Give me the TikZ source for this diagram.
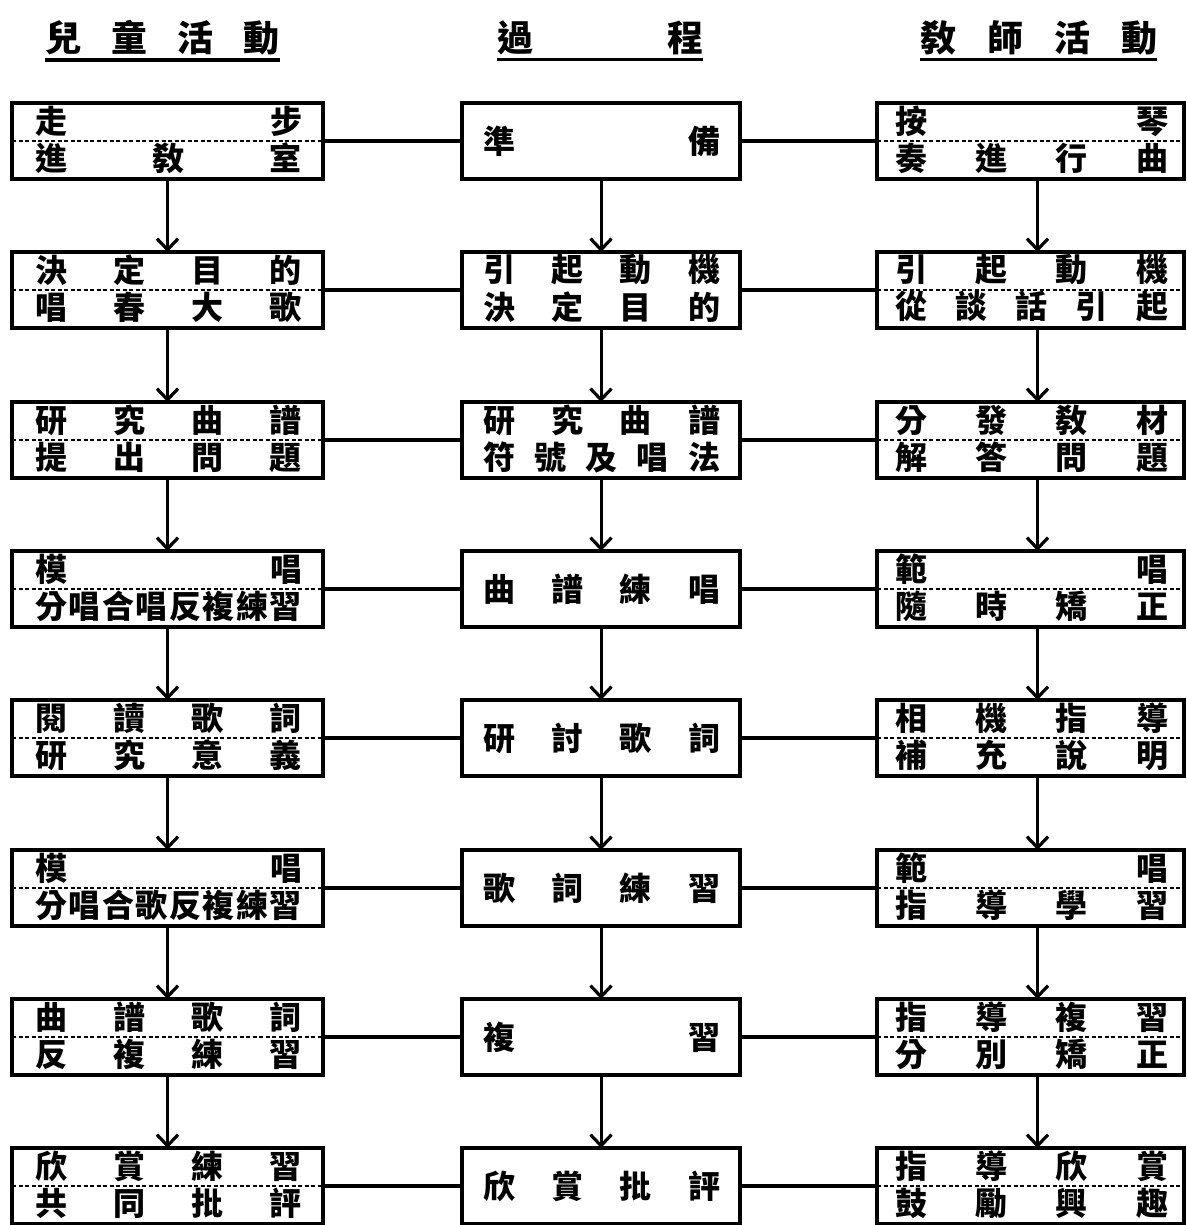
\documentclass[tikz,border=0pt]{standalone}
\usepackage{fontspec}
\newfontfamily\cjk{Noto Sans CJK TC}
\usetikzlibrary{arrows.meta}
\tikzset{
  box/.style={draw, line width=3.4pt, minimum height=76pt, inner sep=0pt, outer sep=0pt},
  lbox/.style={box, minimum width=311pt},
  mbox/.style={box, minimum width=278pt},
  rbox/.style={box, minimum width=307pt},
  sepline/.style={line width=1.6pt, dash pattern=on 4pt off 2.5pt},
  txt/.style={inner sep=0pt, font=\cjk\bfseries\fontsize{32}{32}\selectfont},
  head/.style={inner sep=0pt, font=\cjk\bfseries\fontsize{36}{36}\selectfont},
  conn/.style={line width=3.4pt},
  arr/.style={line width=3pt, -{Straight Barb[length=11pt,width=21pt,line width=3.2pt]}},
  uline/.style={line width=3.6pt}
}
% two-line box: name, x, y, box style, text width, line1, line2
\newcommand\TwoLine[7]{%
  \node[#4] (#1) at (#2,#3) {};
  \draw[sepline] (#1.west) -- (#1.east);
  \node[txt] (#1a) at (#2+1,#3-20) {\makebox[#5pt]{#6}};
  \node[txt] (#1b) at (#2+1,#3+17) {\makebox[#5pt]{#7}};
}
\newcommand\OneLine[3]{%
  \node[mbox] (#1) at (601,#2) {};
  \node[txt] (#1a) at (601.5,#2) {\makebox[237pt]{#3}};
}
\newcommand\MidTwo[4]{%
  \node[mbox] (#1) at (601,#2) {};
  \node[txt] (#1a) at (601.5,#2-20) {\makebox[237pt]{#3}};
  \node[txt] (#1b) at (601.5,#2+17) {\makebox[237pt]{#4}};
}
\begin{document}
\begin{tikzpicture}[x=1pt,y=-1pt]
\useasboundingbox (0,0) rectangle (1186,1225);
% headers
\node[head] (H1) at (162.5,38) {\makebox[235pt]{兒\hfill 童\hfill 活\hfill 動}};
\node[head] (H2) at (600,38) {\makebox[206pt]{過\hfill 程}};
\node[head] (H3) at (1038.5,38) {\makebox[237pt]{敎\hfill 師\hfill 活\hfill 動}};
\draw[uline] ([yshift=-4pt]H1.south west) -- ([yshift=-4pt]H1.south east);
\draw[uline] ([yshift=-4pt]H2.south west) -- ([yshift=-4pt]H2.south east);
\draw[uline] ([yshift=-4pt]H3.south west) -- ([yshift=-4pt]H3.south east);

% left column
\TwoLine{L1}{167.5}{141}{lbox}{267}{走\hfill 步}{進\hfill 敎\hfill 室}
\TwoLine{L2}{167.5}{290}{lbox}{267}{決\hfill 定\hfill 目\hfill 的}{唱\hfill 春\hfill 大\hfill 歌}
\TwoLine{L3}{167.5}{440}{lbox}{267}{研\hfill 究\hfill 曲\hfill 譜}{提\hfill 出\hfill 問\hfill 題}
\TwoLine{L4}{167.5}{589}{lbox}{267}{模\hfill 唱}{分\hfill 唱\hfill 合\hfill 唱\hfill 反\hfill 複\hfill 練\hfill 習}
\TwoLine{L5}{167.5}{738}{lbox}{267}{閱\hfill 讀\hfill 歌\hfill 詞}{研\hfill 究\hfill 意\hfill 義}
\TwoLine{L6}{167.5}{888}{lbox}{267}{模\hfill 唱}{分\hfill 唱\hfill 合\hfill 歌\hfill 反\hfill 複\hfill 練\hfill 習}
\TwoLine{L7}{167.5}{1037}{lbox}{267}{曲\hfill 譜\hfill 歌\hfill 詞}{反\hfill 複\hfill 練\hfill 習}
\TwoLine{L8}{167.5}{1186}{lbox}{267}{欣\hfill 賞\hfill 練\hfill 習}{共\hfill 同\hfill 批\hfill 評}

% middle column
\OneLine{M1}{141}{準\hfill 備}
\MidTwo{M2}{290}{引\hfill 起\hfill 動\hfill 機}{決\hfill 定\hfill 目\hfill 的}
\MidTwo{M3}{440}{研\hfill 究\hfill 曲\hfill 譜}{符\hfill 號\hfill 及\hfill 唱\hfill 法}
\OneLine{M4}{589}{曲\hfill 譜\hfill 練\hfill 唱}
\OneLine{M5}{738}{研\hfill 討\hfill 歌\hfill 詞}
\OneLine{M6}{888}{歌\hfill 詞\hfill 練\hfill 習}
\OneLine{M7}{1037}{複\hfill 習}
\OneLine{M8}{1186}{欣\hfill 賞\hfill 批\hfill 評}

% right column
\TwoLine{R1}{1030.5}{141}{rbox}{273}{按\hfill 琴}{奏\hfill 進\hfill 行\hfill 曲}
\TwoLine{R2}{1030.5}{290}{rbox}{273}{引\hfill 起\hfill 動\hfill 機}{從\hfill 談\hfill 話\hfill 引\hfill 起}
\TwoLine{R3}{1030.5}{440}{rbox}{273}{分\hfill 發\hfill 敎\hfill 材}{解\hfill 答\hfill 問\hfill 題}
\TwoLine{R4}{1030.5}{589}{rbox}{273}{範\hfill 唱}{隨\hfill 時\hfill 矯\hfill 正}
\TwoLine{R5}{1030.5}{738}{rbox}{273}{相\hfill 機\hfill 指\hfill 導}{補\hfill 充\hfill 說\hfill 明}
\TwoLine{R6}{1030.5}{888}{rbox}{273}{範\hfill 唱}{指\hfill 導\hfill 學\hfill 習}
\TwoLine{R7}{1030.5}{1037}{rbox}{273}{指\hfill 導\hfill 複\hfill 習}{分\hfill 別\hfill 矯\hfill 正}
\TwoLine{R8}{1030.5}{1186}{rbox}{273}{指\hfill 導\hfill 欣\hfill 賞}{鼓\hfill 勵\hfill 興\hfill 趣}

% horizontal connectors
\foreach \i in {1,...,8}{
  \draw[conn] (L\i.east) -- (M\i.west);
  \draw[conn] (M\i.east) -- (R\i.west);
}
% vertical arrows
\foreach \i/\j in {1/2,2/3,3/4,4/5,5/6,6/7,7/8}{
  \draw[arr] (L\i.south) -- (L\j.north);
  \draw[arr] (M\i.south) -- (M\j.north);
  \draw[arr] ([xshift=7pt]R\i.south) -- ([xshift=7pt]R\j.north);
}
\end{tikzpicture}
\end{document}
